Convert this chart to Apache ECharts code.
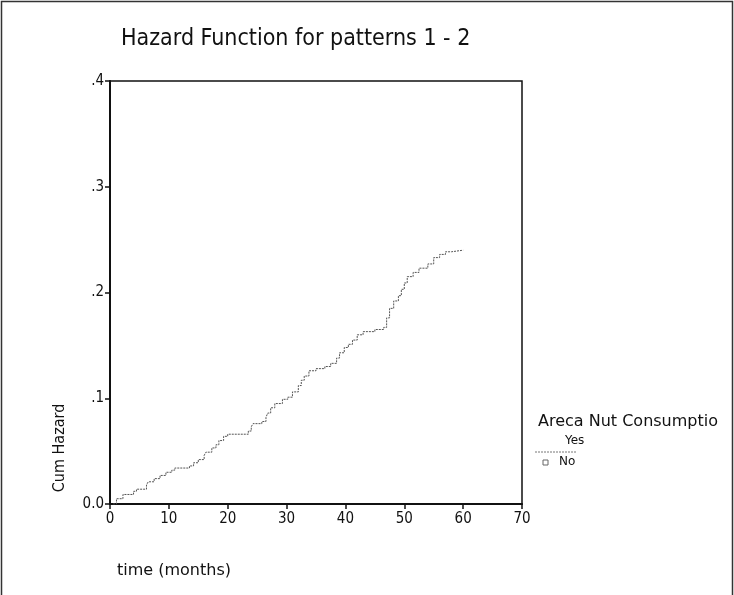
<!DOCTYPE html>
<html>
<head>
<meta charset="utf-8">
<script src="https://cdn.jsdelivr.net/npm/echarts@6/dist/echarts.min.js"></script>
<style>
html,body{margin:0;padding:0;background:#fff;}
#chart{width:734px;height:595px;}
</style>
</head>
<body>
<div id="chart"></div>
<script>
// Data (step cumulative hazard, "Yes" group)
var timeMonths = [0.5, 1.1, 2.2, 4.0, 4.5, 6.2, 6.5, 7.5, 8.5, 9.5, 10.5, 11.0, 13.5, 14.2, 15.0, 16.0, 16.3, 17.3, 18.0, 18.5, 19.3, 20.0, 23.5, 24.0, 24.3, 25.8, 26.5, 26.8, 27.3, 28.0, 29.3, 30.2, 31.0, 32.0, 32.5, 33.0, 33.8, 35.0, 36.5, 37.5, 38.5, 39.0, 39.8, 40.5, 41.2, 42.0, 43.0, 45.0, 46.5, 47.0, 47.5, 48.2, 49.0, 49.5, 50.0, 50.5, 51.5, 52.5, 54.0, 55.0, 56.0, 57.0, 58.0, 60.0];
var cumHazardYes = [0.000, 0.005, 0.009, 0.012, 0.014, 0.018, 0.021, 0.024, 0.027, 0.030, 0.032, 0.034, 0.036, 0.039, 0.042, 0.046, 0.049, 0.053, 0.056, 0.060, 0.064, 0.066, 0.069, 0.073, 0.076, 0.078, 0.082, 0.086, 0.091, 0.095, 0.099, 0.101, 0.106, 0.112, 0.117, 0.121, 0.126, 0.128, 0.130, 0.133, 0.138, 0.143, 0.148, 0.151, 0.155, 0.160, 0.163, 0.165, 0.167, 0.176, 0.185, 0.192, 0.197, 0.203, 0.209, 0.215, 0.219, 0.223, 0.227, 0.233, 0.236, 0.2385, 0.240, 0.240];
var xTicks = [0, 10, 20, 30, 40, 50, 60, 70];
var yTickLabels = {"0": "0.0", "0.1": ".1", "0.2": ".2", "0.3": ".3", "0.4": ".4"};
var legendTitle = "Areca Nut Consumptio";
var legendNames = ["Yes", "No"];

var seriesData = timeMonths.map(function (t, i) { return [t, cumHazardYes[i]]; });

var chart = echarts.init(document.getElementById('chart'));
var tickFont = "'Liberation Sans Narrow', 'DejaVu Sans Condensed', 'Liberation Sans', sans-serif";
var condFont = "'DejaVu Sans Condensed', 'DejaVu Sans', 'Liberation Sans', sans-serif";
var mainFont = "'DejaVu Sans', 'Liberation Sans', sans-serif";

chart.setOption({
  backgroundColor: '#ffffff',
  animation: false,
  title: {
    text: 'Hazard Function for patterns 1 - 2',
    left: 116, top: 23,
    textStyle: { fontFamily: condFont, fontSize: 23, fontWeight: 'normal', color: '#111' }
  },
  grid: {
    left: 110, top: 81, width: 412, height: 423,
    show: true, borderColor: '#111', borderWidth: 1.5, backgroundColor: 'transparent'
  },
  xAxis: {
    type: 'value', min: 0, max: 70, interval: 10,
    axisLine: { show: true, lineStyle: { color: '#111', width: 2 } },
    axisTick: { show: true, length: 5, inside: false, lineStyle: { color: '#111', width: 1.5 } },
    axisLabel: { fontFamily: tickFont, fontSize: 15, color: '#111', margin: 8,
      formatter: function (v) { return xTicks.indexOf(v) >= 0 ? String(v) : ''; } },
    splitLine: { show: false }
  },
  yAxis: {
    type: 'value', min: 0, max: 0.4, interval: 0.1,
    axisLine: { show: true, lineStyle: { color: '#111', width: 2 } },
    axisTick: { show: true, length: 5, lineStyle: { color: '#111', width: 1.5 } },
    axisLabel: { fontFamily: tickFont, fontSize: 15, color: '#111', margin: 6,
      formatter: function (v) { var k = String(Math.round(v * 10) / 10); return yTickLabels[k] || ''; } },
    splitLine: { show: false }
  },
  series: [{
    name: legendNames[0],
    type: 'line',
    step: 'end',
    showSymbol: false,
    data: seriesData,
    lineStyle: { color: '#555', width: 1, type: [2, 1] }
  }],
  graphic: [
    { type: 'rect', shape: { x: 1.5, y: 1.5, width: 731, height: 620 }, style: { fill: 'none', stroke: '#333', lineWidth: 1.5 }, silent: true },
    { type: 'text', left: 117, top: 563, style: { text: 'time (months)', fontFamily: mainFont, fontSize: 16, fill: '#111' } },
    { type: 'text', x: 60, y: 448, rotation: Math.PI / 2, style: { text: 'Cum Hazard', fontFamily: condFont, fontSize: 16, fill: '#111', align: 'center', verticalAlign: 'middle' } },
    { type: 'text', left: 538, top: 414, style: { text: legendTitle, fontFamily: mainFont, fontSize: 16, fill: '#111' } },
    { type: 'text', left: 565, top: 435, style: { text: legendNames[0], fontFamily: mainFont, fontSize: 12, fill: '#111' } },
    { type: 'line', shape: { x1: 535, y1: 452, x2: 577, y2: 452 }, style: { stroke: '#777', lineWidth: 1, lineDash: [2, 1] } },
    { type: 'rect', shape: { x: 543, y: 460, width: 5, height: 5 }, style: { fill: 'none', stroke: '#666', lineWidth: 1 } },
    { type: 'text', left: 559, top: 456, style: { text: legendNames[1], fontFamily: mainFont, fontSize: 12, fill: '#111' } }
  ]
});
</script>
</body>
</html>
